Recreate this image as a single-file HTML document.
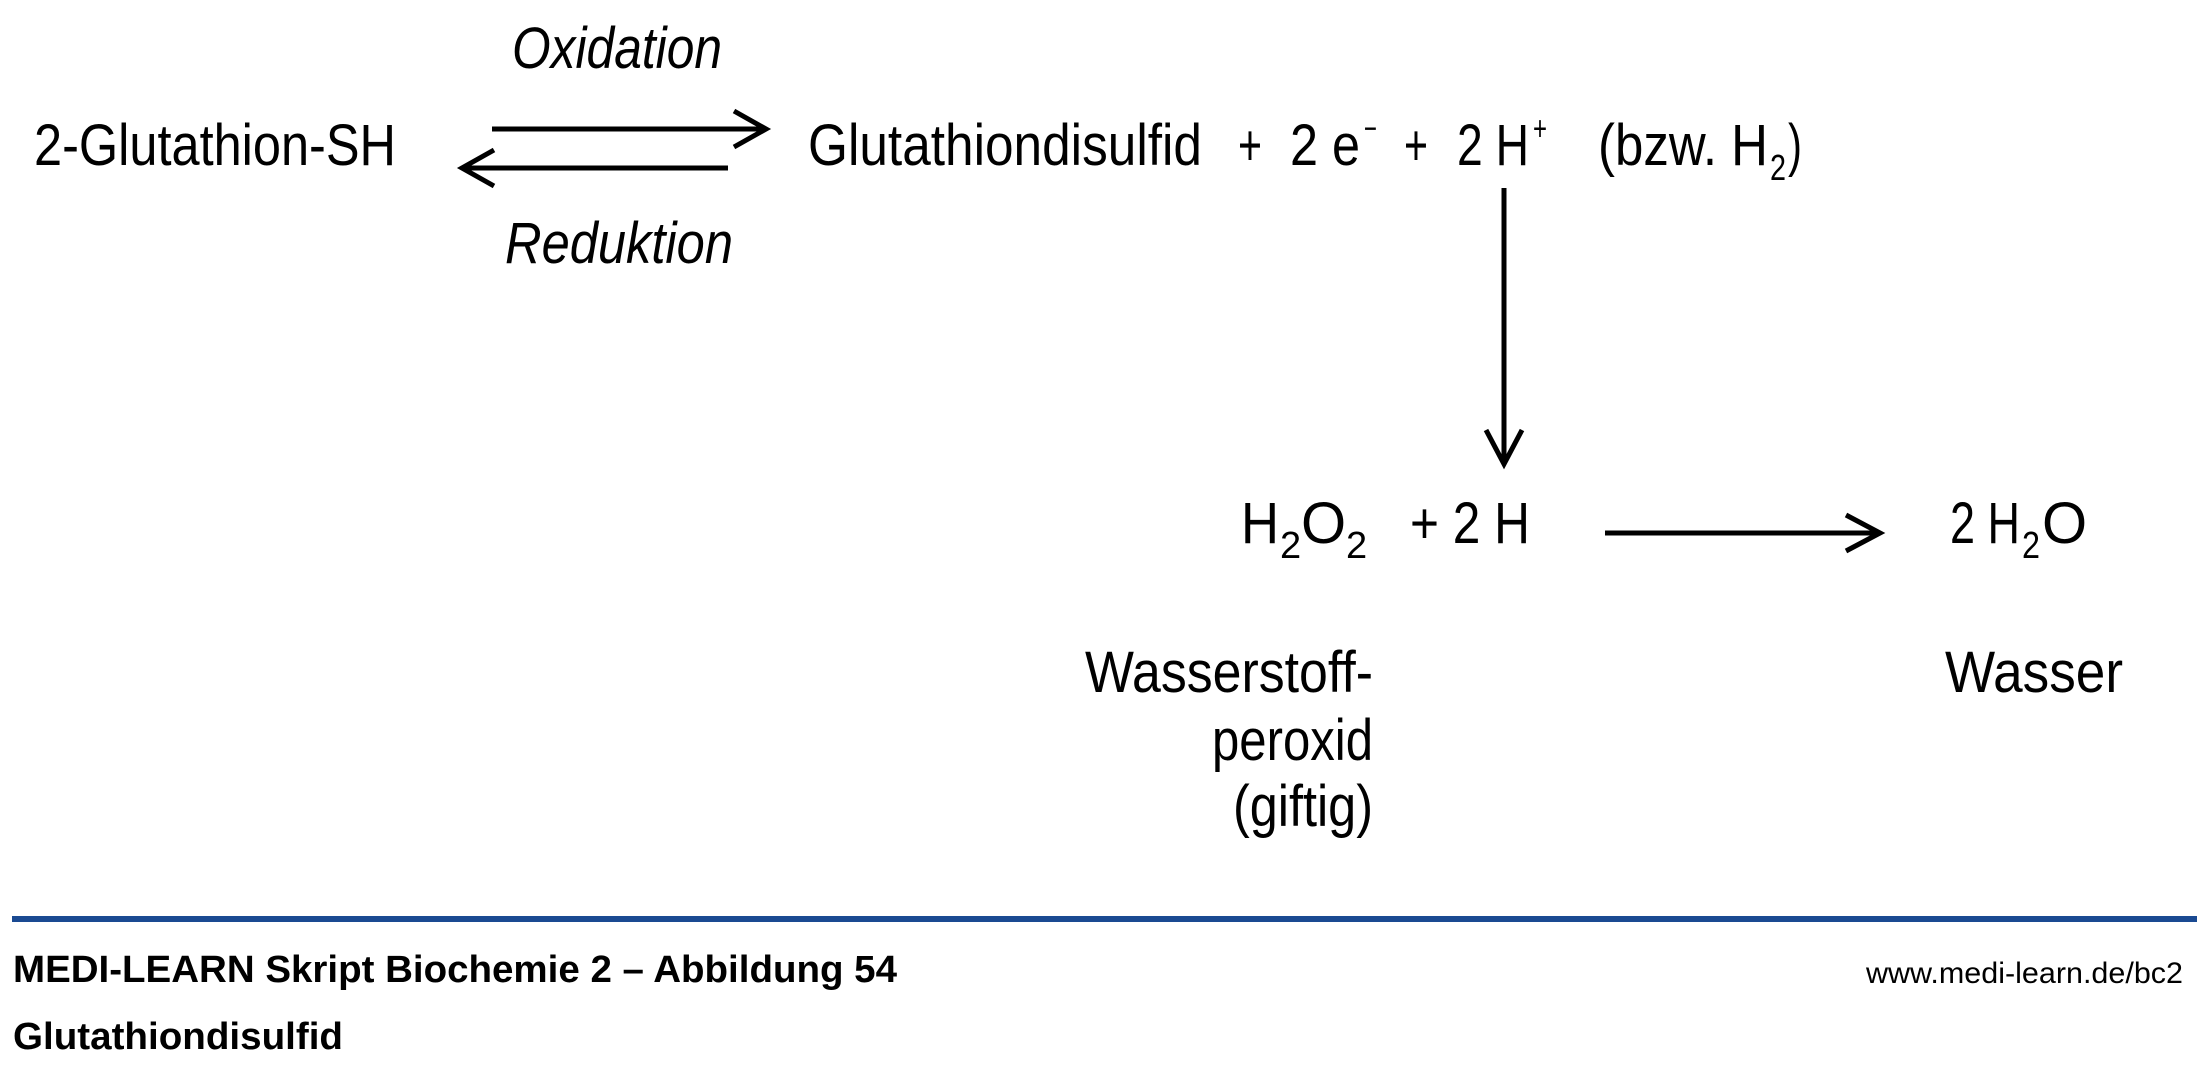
<!DOCTYPE html>
<html><head><meta charset="utf-8"><style>
html,body{margin:0;padding:0;background:#fff;}
svg{display:block;}
text{font-family:"Liberation Sans",sans-serif;fill:#000;}
</style></head><body>
<svg width="2210" height="1066" viewBox="0 0 2210 1066" xmlns="http://www.w3.org/2000/svg">
<g font-size="58">
<text x="34" y="165" textLength="362" lengthAdjust="spacingAndGlyphs">2-Glutathion-SH</text>
<text x="512" y="68" font-style="italic" textLength="210" lengthAdjust="spacingAndGlyphs">Oxidation</text>
<text x="505" y="263" font-style="italic" textLength="228" lengthAdjust="spacingAndGlyphs">Reduktion</text>
<text x="808" y="165" textLength="394" lengthAdjust="spacingAndGlyphs">Glutathiondisulfid</text>
<text x="1238" y="165" textLength="24" lengthAdjust="spacingAndGlyphs">+</text>
<text x="1290" y="165" textLength="70" lengthAdjust="spacingAndGlyphs">2 e</text>
<text x="1364" y="140" font-size="34" textLength="13" lengthAdjust="spacingAndGlyphs">−</text>
<text x="1404" y="165" textLength="24" lengthAdjust="spacingAndGlyphs">+</text>
<text x="1457" y="165" textLength="72" lengthAdjust="spacingAndGlyphs">2 H</text>
<text x="1533" y="140" font-size="34" textLength="14" lengthAdjust="spacingAndGlyphs">+</text>
<text x="1598" y="165" textLength="170" lengthAdjust="spacingAndGlyphs">(bzw. H</text>
<text x="1770" y="180" font-size="36" textLength="16" lengthAdjust="spacingAndGlyphs">2</text>
<text x="1788" y="165" textLength="14" lengthAdjust="spacingAndGlyphs">)</text>

<text x="1241" y="543" textLength="38" lengthAdjust="spacingAndGlyphs">H</text>
<text x="1280" y="558" font-size="38">2</text>
<text x="1301" y="543">O</text>
<text x="1346" y="558" font-size="38">2</text>
<text x="1410" y="543" textLength="120" lengthAdjust="spacingAndGlyphs">+ 2 H</text>

<text x="1950" y="543" textLength="70" lengthAdjust="spacingAndGlyphs">2 H</text>
<text x="2022" y="558" font-size="38" textLength="18" lengthAdjust="spacingAndGlyphs">2</text>
<text x="2042" y="543">O</text>

<text x="1085" y="692" textLength="288" lengthAdjust="spacingAndGlyphs">Wasserstoff-</text>
<text x="1212" y="760" textLength="161" lengthAdjust="spacingAndGlyphs">peroxid</text>
<text x="1233" y="826" textLength="140" lengthAdjust="spacingAndGlyphs">(giftig)</text>
<text x="1945" y="692" textLength="178" lengthAdjust="spacingAndGlyphs">Wasser</text>
</g>

<g stroke="#000" stroke-width="5" fill="none">
<line x1="492" y1="129" x2="764" y2="129"/>
<polyline points="734,111 766,129 734,147"/>
<line x1="464" y1="168" x2="728" y2="168"/>
<polyline points="494,150 462,168 494,186"/>
<line x1="1504" y1="188" x2="1504" y2="462"/>
<polyline points="1486,430 1504,464 1522,430"/>
<line x1="1605" y1="533" x2="1878" y2="533"/>
<polyline points="1846,515 1880,533 1846,551"/>
</g>

<rect x="12" y="916" width="2185" height="6" fill="#1a4a92"/>
<text x="13" y="982" font-size="38" font-weight="bold" textLength="884" lengthAdjust="spacingAndGlyphs">MEDI-LEARN Skript Biochemie 2 – Abbildung 54</text>
<text x="13" y="1049" font-size="38" font-weight="bold" textLength="330" lengthAdjust="spacingAndGlyphs">Glutathiondisulfid</text>
<text x="1866" y="983" font-size="30" textLength="317" lengthAdjust="spacingAndGlyphs">www.medi-learn.de/bc2</text>
</svg>
</body></html>
